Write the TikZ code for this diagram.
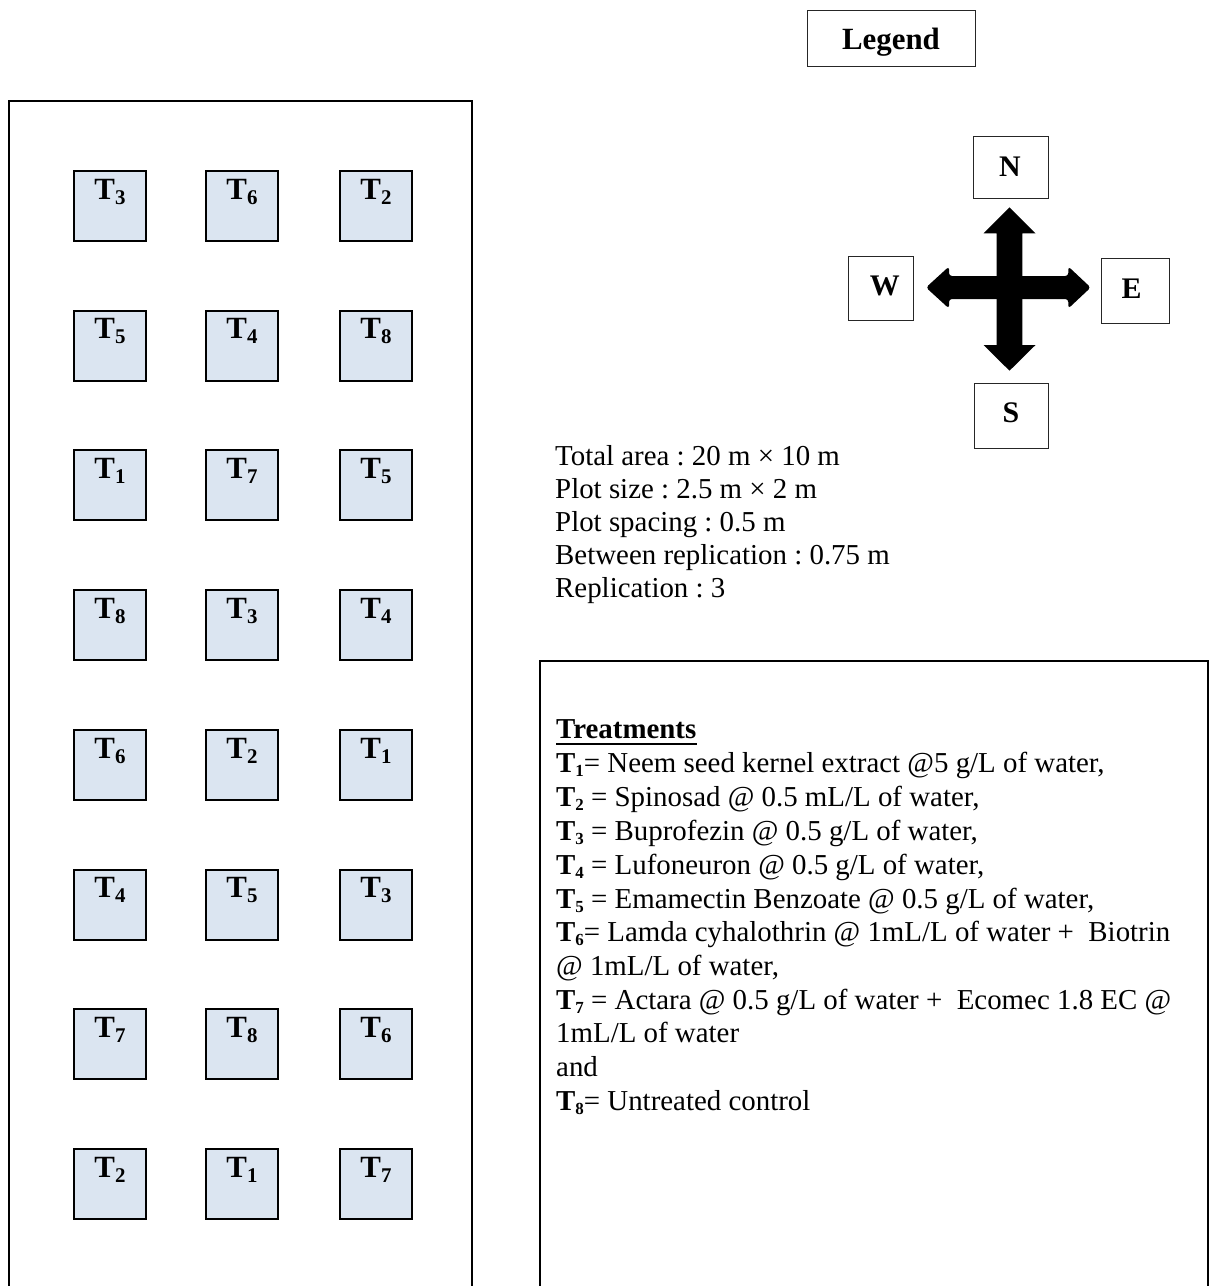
\documentclass[tikz,border=0pt]{standalone}
\usepackage{fontspec}
\setmainfont{Liberation Serif}
\frenchspacing
\definecolor{plotblue}{HTML}{DBE5F1}
% plot label: bold T with a lowered index
\newcommand\plt[1]{\fontsize{31}{31}\selectfont\bfseries T\raisebox{-5bp}{\fontsize{21}{21}\selectfont #1}}
% treatment symbol in the list
\newcommand\trt[1]{\textbf{T\raisebox{-4bp}{\fontsize{17}{17}\selectfont #1}}}
\begin{document}
\begin{tikzpicture}[x=1bp,y=-1bp,
  frame/.style={line width=2bp},
  plot/.style={draw, line width=2bp, fill=plotblue, minimum width=72.5bp,
    minimum height=70bp, inner sep=0pt, anchor=north west},
  plotlbl/.style={anchor=base, inner sep=0pt},
  thinbox/.style={draw=black!85, line width=1bp, inner sep=0pt},
  dirlbl/.style={anchor=base, inner sep=0pt, font=\fontsize{30}{30}\selectfont\bfseries},
  infotxt/.style={anchor=base west, inner sep=0pt, font=\fontsize{29}{34}\selectfont},
]
\useasboundingbox (0,0) rectangle (1211,1286);

% field outline, open at the bottom
\draw[frame] (9,1300) -- (9,100.7) -- (472,100.7) -- (472,1300);

% plots of the three replications
\foreach \row/\a/\b/\c [count=\i] in {
  170/3/6/2, 309.5/5/4/8, 449/1/7/5, 589/8/3/4,
  729/6/2/1, 868.5/4/5/3, 1008/7/8/6, 1148/2/1/7} {
  \foreach \x/\t [count=\j] in {72.7/\a, 204.7/\b, 338.7/\c} {
    \node[plot] (p\i\j) at (\x,\row) {};
    \node[plotlbl] (l\i\j) at ([yshift=-29bp]p\i\j.north) {\plt{\t}};
  }
}

% legend title
\node[thinbox, minimum width=168bp, minimum height=56bp] (legend) at (891,38) {};
\node[anchor=base, inner sep=0pt, font=\fontsize{31}{31}\selectfont\bfseries]
  (legendtxt) at (891,49) {Legend};

% compass boxes and letters
\node[thinbox, minimum width=74.3bp, minimum height=62bp] (N) at (1010.9,167) {};
\node[thinbox, minimum width=65bp, minimum height=64.7bp] (W) at (881.2,288.4) {};
\node[thinbox, minimum width=68bp, minimum height=64.6bp] (E) at (1135,291) {};
\node[thinbox, minimum width=74bp, minimum height=65bp] (S) at (1011,416.2) {};
\node[dirlbl] (Nt) at (1010,176) {N};
\node[dirlbl] (Wt) at (884.7,295) {W};
\node[dirlbl] (Et) at (1131.7,298) {E};
\node[dirlbl] (St) at (1011,422.7) {S};

\fill (1009.5,207.3) -- (1035.5,233.3) -- (1022.3,233.3) -- (1022.3,345)
  -- (1035.5,345) -- (1009.5,370.7) -- (983.5,345) -- (996.7,345)
  -- (996.7,233.3) -- (983.5,233.3) -- cycle;
\fill[rounded corners=3bp] (926,287.5) -- (949,266.5) -- (949,276) -- (1068.3,276)
  -- (1068.3,266.5) -- (1090.7,287.5) -- (1068.3,308.5) -- (1068.3,299)
  -- (949,299) -- (949,308.5) -- cycle;

% field details
\node[infotxt] (i1) at (555,465) {Total area : 20 m × 10 m};
\node[infotxt] (i2) at (555,498) {Plot size : 2.5 m × 2 m};
\node[infotxt] (i3) at (555,531) {Plot spacing : 0.5 m};
\node[infotxt] (i4) at (555,564) {Between replication : 0.75 m};
\node[infotxt] (i5) at (555,597) {Replication : 3};

% treatment list
\draw[frame] (540,1300) -- (540,661) -- (1208,661) -- (1208,1300);
\node[infotxt, font=\fontsize{29}{34}\selectfont\bfseries] (tr) at (556,738.3) {Treatments};
\draw[line width=2bp] ([yshift=-6bp]tr.base west) -- ([yshift=-6bp]tr.base east);
\node[infotxt] (t1) at (556,772.7) {\trt{1}= Neem seed kernel extract @5 g/L of water,};
\node[infotxt] (t2) at (556,806.7) {\trt{2} = Spinosad @ 0.5 mL/L of water,};
\node[infotxt] (t3) at (556,840.7) {\trt{3} = Buprofezin @ 0.5 g/L of water,};
\node[infotxt] (t4) at (556,874.3) {\trt{4} = Lufoneuron @ 0.5 g/L of water,};
\node[infotxt] (t5) at (556,908.3) {\trt{5} = Emamectin Benzoate @ 0.5 g/L of water,};
\node[infotxt] (t6) at (556,941.7) {\trt{6}= Lamda cyhalothrin @ 1mL/L of water + \ Biotrin};
\node[infotxt] (t6b) at (556,975) {@ 1mL/L of water,};
\node[infotxt] (t7) at (556,1009) {\trt{7} = Actara @ 0.5 g/L of water + \ Ecomec 1.8 EC @};
\node[infotxt] (t7b) at (556,1042.3) {1mL/L of water};
\node[infotxt] (and) at (556,1076) {and};
\node[infotxt] (t8) at (556,1110) {\trt{8}= Untreated control};
\end{tikzpicture}
\end{document}
